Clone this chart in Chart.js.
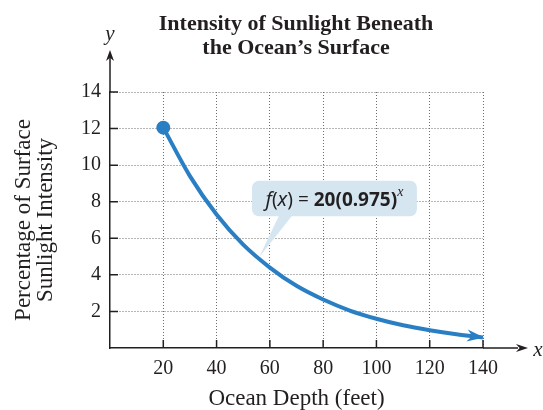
<!DOCTYPE html>
<html>
<head>
<meta charset="utf-8">
<script src="https://cdn.jsdelivr.net/npm/chart.js@4"></script>
<style>
  html, body { margin: 0; padding: 0; background: #fff; }
  #wrap { width: 543px; height: 410px; position: relative; }
</style>
</head>
<body>
<div id="wrap"><canvas id="chart"></canvas></div>
<script>
  // values
  const depths = [20, 30, 40, 50, 60, 70, 80, 90, 100, 110, 120, 130, 140];
  const intensity = [12.05, 9.4, 7.3, 5.65, 4.4, 3.4, 2.65, 2.05, 1.6, 1.24, 0.97, 0.75, 0.58];
  const titleLines = ["Intensity of Sunlight Beneath", "the Ocean\u2019s Surface"];
  const yTitleLines = ["Percentage of Surface", "Sunlight Intensity"];
  const xTitle = "Ocean Depth (feet)";

  const BLUE = "#2a7fc4";
  const SERIF = "'Liberation Serif', 'DejaVu Serif', serif";
  const SANS = "'Noto Sans', 'Open Sans', sans-serif";
  const INK = "#231f20";

  // callout box in data units
  const CALLOUT = { x0: 53.3, x1: 115.2, y0: 9.15, y1: 7.2, baseA: 63.5, baseB: 68.5, tipX: 55.9, tipY: 4.95 };

  const overlay = {
    id: "overlay",
    afterDraw(chart) {
      const { ctx, chartArea: area, scales: { x, y } } = chart;
      ctx.save();
      ctx.strokeStyle = INK;
      ctx.fillStyle = INK;
      ctx.lineWidth = 1.5;

      // title (centred over the plotting box rather than the canvas)
      ctx.font = `bold 22px ${SERIF}`;
      ctx.textAlign = "center";
      ctx.textBaseline = "middle";
      titleLines.forEach((line, i) => ctx.fillText(line, 296, 24 + i * 24));

      // axis extensions with arrowheads
      ctx.beginPath();
      ctx.moveTo(area.left, area.top);
      ctx.lineTo(area.left, 58);
      ctx.moveTo(area.right, area.bottom);
      ctx.lineTo(518, area.bottom);
      ctx.stroke();
      arrow(ctx, area.left, 50, 0, -1, 11, 4);
      arrow(ctx, 528, area.bottom, 1, 0, 12, 4);

      // inner tick marks
      ctx.beginPath();
      y.ticks.forEach(t => {
        if (t.value === 0) return;
        const py = y.getPixelForValue(t.value);
        ctx.moveTo(area.left, py);
        ctx.lineTo(area.left + 8, py);
      });
      x.ticks.forEach(t => {
        if (t.value === 0) return;
        const px = x.getPixelForValue(t.value);
        ctx.moveTo(px, area.bottom);
        ctx.lineTo(px, area.bottom - 8);
      });
      ctx.stroke();

      ctx.font = `italic 21px ${SERIF}`;
      ctx.fillText("y", area.left, 34);
      ctx.fillText("x", 538, area.bottom + 2);

      // arrowhead on curve end
      const n = depths.length;
      const ex = x.getPixelForValue(depths[n - 1]), ey = y.getPixelForValue(intensity[n - 1]);
      const px = x.getPixelForValue(depths[n - 2]), py = y.getPixelForValue(intensity[n - 2]);
      const len = Math.hypot(ex - px, ey - py);
      ctx.fillStyle = BLUE;
      arrow(ctx, ex + 1, ey, (ex - px) / len, (ey - py) / len, 17, 6);

      // callout
      const bx0 = x.getPixelForValue(CALLOUT.x0), bx1 = x.getPixelForValue(CALLOUT.x1);
      const by0 = y.getPixelForValue(CALLOUT.y0), by1 = y.getPixelForValue(CALLOUT.y1);
      ctx.fillStyle = "#d5e6f1";
      ctx.beginPath();
      ctx.roundRect(bx0, by0, bx1 - bx0, by1 - by0, 7);
      ctx.fill();
      ctx.beginPath();
      ctx.moveTo(x.getPixelForValue(CALLOUT.baseA), by1 - 1);
      ctx.lineTo(x.getPixelForValue(CALLOUT.tipX), y.getPixelForValue(CALLOUT.tipY));
      ctx.lineTo(x.getPixelForValue(CALLOUT.baseB), by1 - 1);
      ctx.closePath();
      ctx.fill();

      const parts = [
        { t: "f", f: `italic 20px ${SANS}` },
        { t: "(", f: `19px ${SANS}` },
        { t: "x", f: `italic 20px ${SANS}` },
        { t: ")", f: `19px ${SANS}` },
        { t: " = ", f: `19px ${SANS}` },
        { t: "20(0.975)", f: `bold 19px ${SANS}` },
        { t: "x", f: `italic 14px ${SERIF}`, sup: true }
      ];
      ctx.textAlign = "left";
      ctx.textBaseline = "alphabetic";
      let total = 0;
      parts.forEach(p => { ctx.font = p.f; p.w = ctx.measureText(p.t).width; total += p.w; });
      let cx = (bx0 + bx1) / 2 - total / 2;
      const base = (by0 + by1) / 2 + 7;
      ctx.fillStyle = INK;
      parts.forEach(p => {
        ctx.font = p.f;
        ctx.fillText(p.t, cx, p.sup ? base - 10 : base);
        cx += p.w;
      });
      ctx.restore();
    }
  };

  function arrow(ctx, tx, ty, dx, dy, length, half) {
    const bx = tx - dx * length, by = ty - dy * length;
    ctx.beginPath();
    ctx.moveTo(tx, ty);
    ctx.lineTo(bx - dy * half, by + dx * half);
    ctx.lineTo(tx - dx * length * 0.7, ty - dy * length * 0.7);
    ctx.lineTo(bx + dy * half, by - dx * half);
    ctx.closePath();
    ctx.fill();
  }

  const gridColor = ctx => (ctx.tick && ctx.tick.value === 0 ? "rgba(0,0,0,0)" : "#6d6d6d");

  new Chart(document.getElementById("chart"), {
    type: "line",
    data: {
      datasets: [{
        data: depths.map((d, i) => ({ x: d, y: intensity[i] })),
        borderColor: BLUE,
        backgroundColor: BLUE,
        borderWidth: 4,
        cubicInterpolationMode: "monotone",
        pointRadius: ctx => (ctx.dataIndex === 0 ? 5 : 0),
        pointHoverRadius: 0,
        fill: false
      }]
    },
    options: {
      responsive: true,
      maintainAspectRatio: false,
      animation: false,
      layout: { padding: { left: 0, right: 60, top: 92, bottom: 0 } },
      plugins: {
        legend: { display: false },
        tooltip: { enabled: false },
        title: { display: false }
      },
      scales: {
        x: {
          type: "linear",
          min: 0,
          max: 140,
          afterFit: scale => { scale.height = 62; },
          border: { display: true, color: INK, width: 1.5, dash: [1, 2] },
          grid: { color: gridColor, lineWidth: 1, drawTicks: false },
          ticks: {
            stepSize: 20,
            padding: 9,
            color: INK,
            font: { family: SERIF, size: 20 },
            callback: v => (v === 0 ? "" : v)
          },
          title: {
            display: true,
            text: xTitle,
            color: INK,
            font: { family: SERIF, size: 23, lineHeight: 1.0 },
            padding: { top: 0, bottom: 0 }
          }
        },
        y: {
          min: 0,
          max: 14,
          afterFit: scale => { scale.width = 110; },
          border: { display: true, color: INK, width: 1.5, dash: [1, 2] },
          grid: { color: gridColor, lineWidth: 1, drawTicks: false },
          ticks: {
            stepSize: 2,
            padding: 9,
            color: INK,
            font: { family: SERIF, size: 20 },
            callback: v => (v === 0 ? "" : v)
          },
          title: {
            display: true,
            text: yTitleLines,
            color: INK,
            font: { family: SERIF, size: 23, lineHeight: 0.95 },
            padding: { top: 13, bottom: 0 }
          }
        }
      }
    },
    plugins: [overlay]
  });
</script>
</body>
</html>
